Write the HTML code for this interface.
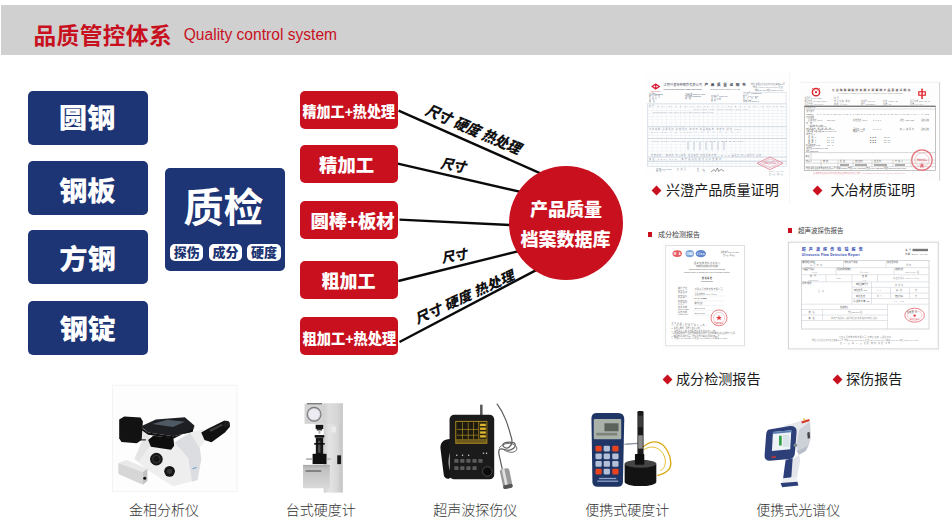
<!DOCTYPE html>
<html lang="zh-CN">
<head>
<meta charset="utf-8">
<title>品质管控体系 Quality control system</title>
<style>
html,body{margin:0;padding:0;background:#fff;}
body{width:952px;height:524px;position:relative;overflow:hidden;font-family:"Liberation Sans","Noto Sans CJK SC",sans-serif;}
.abs{position:absolute;}
#hdr{left:1px;top:5px;width:951px;height:50px;background:#d0d0d0;}
#hdr .t1{position:absolute;left:32.5px;top:15.5px;font-size:22.7px;line-height:30px;font-weight:700;letter-spacing:0.4px;color:#c8101e;white-space:nowrap;}
#hdr .t2{position:absolute;left:182.7px;top:19px;font-size:15.6px;line-height:22px;color:#c8101e;white-space:nowrap;}
.bb{position:absolute;left:28px;width:120px;height:54px;background:#1d3475;border-radius:5px;color:#fff;text-align:center;font-weight:900;font-size:27px;line-height:54px;}
.bb span{transform:translate(-1px,1.3px) scaleX(1.05);}
.bb span,.rb span,.qc span,.circ span{display:inline-block;white-space:nowrap;}
#qc{left:165px;top:168px;width:120px;height:103px;background:#1d3475;border-radius:5px;color:#fff;}
#qc .big{position:absolute;left:-1.5px;top:15px;width:120px;text-align:center;font-size:40px;line-height:50px;font-weight:700;}
.pill{position:absolute;top:75.7px;width:33.4px;height:17.3px;background:#fff;border-radius:5px;color:#1d3475;font-size:13px;line-height:17.6px;font-weight:900;text-align:center;}
.rb{position:absolute;left:300px;width:98px;height:38px;background:#c8101e;border-radius:5px;color:#fff;text-align:center;font-weight:900;line-height:38px;}
.rb.s{font-size:15.3px;}
.rb.s span{transform:translate(-1.6px,2.3px) scaleX(0.918);}
.rb.l{font-size:18px;}
.rb.l span{transform:translate(0,2px);}
#circ{left:509px;top:166px;width:114px;height:114px;border-radius:57px;background:#c8101e;color:#fff;font-weight:900;font-size:18px;text-align:center;}
.lt{position:absolute;font-weight:900;font-style:italic;font-size:14px;line-height:16px;color:#111;white-space:nowrap;transform-origin:0 100%;}
.cap{position:absolute;font-size:14.1px;line-height:18px;color:#1a1a1a;white-space:nowrap;font-weight:400;}
.cap i{position:absolute;left:-13px;top:6.4px;width:7px;height:7px;background:#c8101e;transform:rotate(45deg);}
.ilab{position:absolute;font-size:14px;line-height:18px;color:#333;white-space:nowrap;font-weight:300;}
.sm{position:absolute;font-size:7px;line-height:9px;color:#444;white-space:nowrap;}
.sm b{position:absolute;left:-10.3px;top:2.2px;width:4.4px;height:4.4px;background:#c8101e;}
</style>
</head>
<body>
<div id="hdr" class="abs"><div class="t1">品质管控体系</div><div class="t2">Quality control system</div></div>

<div class="bb" style="top:91px"><span>圆钢</span></div>
<div class="bb" style="top:161px"><span style="transform:translate(-0.7px,3.8px) scaleX(1.05)">钢板</span></div>
<div class="bb" style="top:230px"><span style="transform:translate(-0.5px,2.8px) scaleX(1.05)">方钢</span></div>
<div class="bb" style="top:301px"><span style="transform:translate(-0.2px,2px) scaleX(1.05)">钢锭</span></div>

<div id="qc" class="abs"><div class="big"><span>质检</span></div>
<div class="pill" style="left:5px">探伤</div><div class="pill" style="left:43.9px">成分</div><div class="pill" style="left:82.2px">硬度</div></div>

<svg class="abs" style="left:0;top:0" width="952" height="524" viewBox="0 0 952 524">
<g stroke="#0a0a0a" stroke-width="2.4" fill="none">
<line x1="398.6" y1="110.7" x2="545" y2="175.3"/>
<line x1="397.8" y1="163.7" x2="525" y2="192.9"/>
<line x1="399.5" y1="219.6" x2="515" y2="225.3"/>
<line x1="398.3" y1="281" x2="525" y2="249.6"/>
<line x1="399.5" y1="342" x2="540" y2="268.1"/>
</g>
<defs>
<pattern id="g1" x="647.6" y="103.8" width="4.62" height="3.12" patternUnits="userSpaceOnUse"><path d="M0 .2H4.62M.2 0V3.12" stroke="#dde4ec" stroke-width=".45" fill="none"/></pattern>
</defs>
<!-- doc 1 : Xingcheng quality certificate -->
<g font-family="'Liberation Sans','Noto Sans CJK SC',sans-serif">
<rect x="645" y="74" width="145" height="104" fill="#fefefe"/>
<line x1="789.5" y1="72" x2="789.5" y2="204" stroke="#f6f6f6" stroke-width="1"/>
<polygon points="651,86.5 655.7,83.2 660.4,86.5 655.7,89.8" fill="#d9213a"/>
<polygon points="653.3,86.5 654.6,85.5 655.4,86.5 654.6,87.5" fill="#fff"/><polygon points="656,86.5 656.8,85.5 658.1,86.5 656.8,87.5" fill="#fff"/>
<text x="650.5" y="91.8" font-size="1.6" fill="#c66">XINGCHENG</text>
<text x="663.5" y="85.9" font-size="3" fill="#4a5060" textLength="38.5">江阴兴澄特种钢铁有限公司</text>
<text x="663.5" y="90.2" font-size="2.1" fill="#6a7080" textLength="38.5">JIANGYIN XINGCHENG SPECIAL STEEL WORKS CO.,LTD.</text>
<text x="704.6" y="86.2" font-size="3.6" font-weight="700" fill="#3a4050" textLength="41">产品质量证明书</text>
<text x="710" y="90.4" font-size="2.1" fill="#6a7080" textLength="30">INSPECTION CERTIFICATE</text>
<g font-size="1.9" fill="#6a7284"><text x="751" y="85.2" textLength="34">地址:中国江苏省江阴市滨江东路297号</text><text x="753" y="88.2" textLength="30">电话:0510-86191108 传真</text><text x="755" y="91" textLength="28">邮编:214429 网址 www.jyxc.com</text>
<text x="649" y="94.5" textLength="14">订货单位 CUSTOMER</text><text x="649" y="97" textLength="11">收货单位</text><text x="649" y="99.6" textLength="8">合同号</text><text x="649" y="102" textLength="6">品名</text>
<text x="685" y="94.5" textLength="20">产品标准 SPECIFICATION</text><text x="685" y="97" textLength="16">交货状态 CONDITION</text><text x="685" y="99.4" textLength="6">规格</text>
<text x="711" y="97" textLength="17">证书编号 CERT NO.</text><text x="711" y="99.6" textLength="10">发货日期</text><text x="711" y="102" textLength="5">车号</text>
<text x="743" y="93.5" textLength="19">许可证号 LICENSE NO.</text><text x="743" y="96.6" textLength="16">炉号 HEAT NO.</text><text x="743" y="99.4" textLength="14">生产日期</text><text x="743" y="102" textLength="16">件数 重量 WEIGHT</text></g>
<rect x="647.6" y="103.8" width="138.6" height="62.4" fill="url(#g1)"/>
<rect x="647.6" y="103.8" width="138.6" height="62.4" fill="none" stroke="#ccd5e0" stroke-width=".6"/>
<line x1="747.5" y1="92.5" x2="786.2" y2="92.5" stroke="#c9d2dd" stroke-width=".5"/><line x1="786.2" y1="92.5" x2="786.2" y2="104" stroke="#c9d2dd" stroke-width=".5"/>
<g stroke="#c3cddb" stroke-width=".7"><line x1="647.6" y1="126.7" x2="786.2" y2="126.7"/><line x1="647.6" y1="138.5" x2="786.2" y2="138.5"/><line x1="647.6" y1="157" x2="786.2" y2="157"/><line x1="647.6" y1="161.4" x2="786.2" y2="161.4"/></g>
<g font-size="2" fill="#8a93a6"><text x="649" y="106.6" textLength="135">炉号 C Si Mn P S Cr Ni Mo Cu Al Ti V Nb B N H O Sn As Pb Sb Ca</text><text x="653" y="112.6" textLength="60">Z13089075 AISI 4140 0.41 0.25 0.88 0.012 0.003</text><text x="693" y="109.6" textLength="55">×100 ×100 ×100 ×1000 ×1000 ×100 ×100</text>
<text x="649" y="129.6" textLength="92">力学性能 屈服强度 抗拉强度 伸长率 断面收缩率 冲击功 硬度 HBW</text><text x="651" y="133" textLength="88">Rel Rm A Z AKU2 △ △ △ △ △ △ △ △</text><text x="653" y="141.5" textLength="90">865 1020 15.5 58 78 82 80 ■ ■ ■ ■ ■ ■ ■ ■ 285</text>
<text x="651" y="156" textLength="110">低倍组织 一般疏松 中心疏松 锭型偏析 非金属夹杂物 A B C D 晶粒度 超声波探伤 合格</text><text x="649" y="160.3" textLength="72">备注 REMARKS: 本产品经检验符合标准要求</text></g>
<g fill="#dde2ea"><rect x="687" y="141" width="2" height="9"/><rect x="693" y="141" width="2" height="9"/><rect x="699" y="141" width="2" height="9"/><rect x="705" y="141" width="2" height="9"/><rect x="711" y="141" width="2" height="9"/><rect x="717" y="141" width="2" height="9"/><rect x="723" y="141" width="2" height="9"/></g>
<polygon points="757,163.3 770,157 783,163.3 770,169.6" fill="none" stroke="#e58a9c" stroke-width=".9"/>
<polygon points="760.5,163.3 770,158.8 779.5,163.3 770,167.8" fill="none" stroke="#eea7b4" stroke-width=".6"/>
<text x="763.5" y="164.3" font-size="2.4" fill="#e58a9c" textLength="13">质量检验专用章</text>
<path d="M711,172 l3,-2.5 l1.5,2 l2,-3.5 l1.2,3.4 l2.5,-2 l3,1.8" fill="none" stroke="#555" stroke-width=".6"/>
<g font-size="1.9" fill="#8a93a6"><text x="656" y="169.6" textLength="16">质保部 QUALITY DEPT</text><text x="656" y="172" textLength="9">审核人</text><text x="677" y="169.6" textLength="9">检验员</text><text x="697" y="169.6" textLength="7">制表</text><text x="697" y="172" textLength="8">日期</text><text x="769" y="171.8" textLength="14">2014-06-15</text><text x="769" y="174.6" textLength="14">第1页 共1页</text></g>
</g>
<!-- doc 2 : Daye material certificate -->
<g font-family="'Liberation Sans','Noto Sans CJK SC',sans-serif">
<rect x="799.5" y="82" width="140" height="99" fill="#fdfdfd"/>
<line x1="939.6" y1="82" x2="939.6" y2="181" stroke="#d2d2d2" stroke-width="1"/>
<line x1="799.5" y1="82.3" x2="939.6" y2="82.3" stroke="#f0f0f0" stroke-width="1"/>
<circle cx="816" cy="92.2" r="3.6" fill="none" stroke="#e0262e" stroke-width="1.5"/><circle cx="816" cy="92.2" r="1.1" fill="#e0262e"/>
<path d="M812.3,88.5 l2,1.6 M819.7,88.5 l-2,1.6" stroke="#e0262e" stroke-width="1" fill="none"/>
<g fill="#e0262e"><rect x="921.3" y="88.6" width="1.5" height="10.4"/><rect x="918.2" y="91.2" width="7.7" height="4.6"/></g><rect x="919.4" y="92.3" width="1.9" height="2.4" fill="#fdfdfd"/><rect x="922.8" y="92.3" width="1.9" height="2.4" fill="#fdfdfd"/>
<text x="831.7" y="91.3" font-size="2.8" font-weight="700" fill="#5a4a4a" textLength="78.5">大冶特殊钢股份有限公司钢材产品质量证明书</text>
<text x="838" y="94" font-size="1.8" fill="#998" textLength="65">DAYE SPECIAL STEEL CO.,LTD. QUALITY CERTIFICATE OF STEEL PRODUCTS</text>
<g font-size="1.9" fill="#777"><text x="804.5" y="99" textLength="17">合同号 DY14-0325</text><text x="834" y="99" textLength="5">牌号</text>
<text x="804.5" y="101.9" textLength="22">收货单位 4140-Q/T 00000</text><text x="834" y="101.9" textLength="16">交货状态 调质</text><text x="861" y="101.9" textLength="14">证书号 0074-50</text><text x="883" y="101.9" textLength="15">标准 ASTM A29</text><text x="910" y="101.9" textLength="20">发货日期 2014-05-11</text>
<text x="804.5" y="104.8" textLength="20">订货单位 4140-Q/T A</text><text x="834" y="104.8" textLength="13">规格 Φ180</text><text x="861" y="104.8" textLength="14">炉号 14203391</text><text x="883" y="104.8" textLength="8">支数 12</text><text x="910" y="104.8" textLength="14">重量 24.86 t</text></g>
<rect x="804.4" y="106" width="131.1" height="64.4" fill="#fefefe" stroke="#9a9a9a" stroke-width=".6"/>
<line x1="804.4" y1="106.3" x2="935.5" y2="106.3" stroke="#555" stroke-width=".9"/>
<g stroke="#b5b5b5" stroke-width=".5"><line x1="804.4" y1="109" x2="935.5" y2="109"/><line x1="804.4" y1="152.6" x2="935.5" y2="152.6"/><line x1="804.4" y1="160" x2="935.5" y2="160"/><line x1="804.4" y1="163.2" x2="935.5" y2="163.2"/><line x1="804.4" y1="166.7" x2="935.5" y2="166.7"/><line x1="811" y1="152.6" x2="811" y2="160"/>
<line x1="821" y1="160" x2="821" y2="166.7"/><line x1="838" y1="160" x2="838" y2="166.7"/><line x1="853" y1="160" x2="853" y2="166.7"/><line x1="872" y1="160" x2="872" y2="166.7"/><line x1="893" y1="160" x2="893" y2="166.7"/><line x1="911" y1="160" x2="911" y2="166.7"/></g>
<g font-size="2" fill="#666"><text x="805.5" y="108.4" textLength="10">化学成分%</text><text x="806.5" y="111.8" textLength="8">炉号批号</text><text x="806" y="114.6" textLength="7">14203391</text>
<text x="817" y="115.2" textLength="112">C 0.41   Si 0.25   Mn 0.88   P 0.012   S 0.003   Cr 1.05   Ni 0.05   Mo 0.19   Cu 0.04   Al 0.025</text>
<text x="806" y="117.8" textLength="8">力学性能</text><text x="808" y="121" textLength="14">屈服强度 MPa</text><text x="827" y="121" textLength="8">865 870</text><text x="853" y="121" textLength="14">抗拉强度 MPa</text><text x="873" y="121" textLength="8">1020</text><text x="900" y="121" textLength="14">硬度 HBW 285</text><text x="921" y="121" textLength="8">合格 合格</text>
<text x="806" y="124" textLength="6">低倍</text><text x="808" y="126.6" textLength="18">一般疏松 中心疏松 1.0</text>
<text x="806" y="129.5" textLength="28">非金属夹杂 A细 B细 C细 D细 0.5</text><text x="853" y="129.8" textLength="12">晶粒度 7.5级</text><text x="873" y="129.8" textLength="8">8.0 8.0</text><text x="900" y="129.8" textLength="14">超声波探伤</text><text x="921" y="129.8" textLength="8">合格 合格</text>
<text x="806" y="132.4" textLength="30">A粗 B粗 C粗 D粗 DS 0.5 0.5 0 0.5</text><text x="853" y="132.4" textLength="10">脱碳层 0.35</text>
<text x="806" y="135.4" textLength="9">冲击功 J</text><text x="808" y="138" textLength="8">试样1</text><text x="827" y="138" textLength="7">78 82</text><text x="870" y="138" textLength="6">■■■</text><text x="884" y="138" textLength="6">82 80</text>
<text x="808" y="140.6" textLength="8">试样2</text><text x="827" y="140.6" textLength="7">80 79</text><text x="870" y="140.6" textLength="6">■■■</text><text x="884" y="140.6" textLength="6">81 80</text>
<text x="808" y="143.2" textLength="8">试样3</text><text x="827" y="143.2" textLength="7">82 80</text><text x="870" y="143.2" textLength="6">■■■</text><text x="884" y="143.2" textLength="6">80 79</text>
<text x="806" y="146" textLength="14">断面收缩率 % 58</text><text x="827" y="146.4" textLength="6">15.5</text>
<text x="806" y="149" textLength="22">淬透性 J9 J15 52 48 HRC</text><text x="806" y="151.6" textLength="12">探伤 GB/T4162</text>
<text x="805.5" y="156.6" textLength="4">备注</text>
<text x="806" y="162.4" textLength="6">制表人</text><text x="823" y="162.4" textLength="5">审核</text><text x="840" y="162.4" textLength="5">检验</text><text x="855" y="162.4" textLength="8">质保部长</text><text x="874" y="162.4" textLength="7">签发日</text><text x="895" y="162.4" textLength="8">专用章</text>
<text x="806" y="169.4" textLength="100">地址:湖北省黄石市黄石大道316号 邮编:435001 电话:0714-6297888 传真:0714-6224888 网址:www.dayesteel.com</text></g>
<g fill="#888"><rect x="840" y="164.3" width="9" height="1.4"/><rect x="855" y="164.3" width="12" height="1.4"/><rect x="874" y="164.3" width="13" height="1.4"/><rect x="895" y="164.3" width="10" height="1.4"/></g>
<circle cx="921.9" cy="160" r="10.2" fill="none" stroke="#e5707a" stroke-width="1.2"/><circle cx="921.9" cy="160" r="7" fill="none" stroke="#eea0a8" stroke-width=".6"/>
<text x="916.4" y="161.2" font-size="2.6" fill="#e5707a" textLength="11">质量证明章</text>
<polygon points="921.9,162.3 922.7,164.5 925,164.5 923.1,165.8 923.8,168 921.9,166.7 920,168 920.7,165.8 918.8,164.5 921.1,164.5" fill="#e5707a"/>
<text x="813" y="174.3" font-size="2" fill="#e9a3aa" textLength="92">注:本质量证明书复印件无效,未加盖质量证明专用章无效。THIS CERTIFICATE IS INVALID WITHOUT STAMP</text>
</g>
<!-- doc 3 : composition test report -->
<g font-family="'Liberation Sans','Noto Sans CJK SC',sans-serif">
<rect x="662" y="242" width="86" height="108" fill="#fdfdfd"/>
<rect x="665.7" y="245.5" width="78.8" height="100.3" fill="#fff" stroke="#d9d9d9" stroke-width=".8"/>
<ellipse cx="677.2" cy="253.6" rx="4.7" ry="3.4" fill="#e85a60"/><text x="673.8" y="254.6" font-size="3" font-weight="700" fill="#fff" textLength="6.8">MA</text>
<ellipse cx="689.8" cy="253.6" rx="4.3" ry="3.6" fill="#7ea6dc"/><text x="686.6" y="254.5" font-size="2.6" font-weight="700" fill="#fff" textLength="6.4">CNAS</text>
<ellipse cx="700.8" cy="253.6" rx="5.2" ry="3.6" fill="#5f86cc"/><text x="697" y="254.6" font-size="2.8" font-weight="700" fill="#fff" textLength="7.6">ilac</text>
<g font-size="2" fill="#777"><text x="720.8" y="253" textLength="18">报告编号 2014-CY-0388</text><text x="723" y="255.8" textLength="12">第1页 共2页</text></g>
<g font-size="2.1" fill="#666" text-anchor="middle"><text x="707" y="264.4" textLength="26">国家钢铁材料测试中心</text><text x="707" y="267.3" textLength="22">钢铁研究总院分析测试所</text>
<text x="707" y="270.2" textLength="36">National Testing Center for Iron &amp; Steel Materials</text><text x="707" y="273" textLength="46">Testing Center of Central Iron &amp; Steel Research Institute</text>
<text x="707" y="278.9" font-weight="700" fill="#444" textLength="10">检验报告</text><text x="707" y="281.6" textLength="12">TEST REPORT</text></g>
<g font-size="2" fill="#777"><text x="678" y="288.6" textLength="9">委托单位</text><text x="678" y="290.9" textLength="6">Client</text><text x="694.5" y="289.8" textLength="28">江阴兴澄特种钢铁有限公司</text>
<text x="678" y="293.4" textLength="9">样品名称</text><text x="678" y="295.7" textLength="8">Sample</text><text x="694.5" y="294.6" textLength="22">合金结构钢 4140 Φ180</text>
<text x="678" y="298.2" textLength="9">样品编号</text><text x="678" y="300.5" textLength="9">Sample No.</text><text x="694.5" y="299.4" fill="#444" font-weight="700" textLength="12">CY14-0388</text>
<text x="678" y="303" textLength="9">检验类别</text><text x="678" y="305.3" textLength="6">Type</text><text x="694.5" y="304.2" textLength="8">委托检验</text>
<text x="678" y="307.8" textLength="9">收样日期</text><text x="678" y="310.1" textLength="11">Received date</text><text x="694.5" y="309" fill="#555" textLength="10">2014-06-12</text>
<text x="678" y="312.6" textLength="9">报告日期</text><text x="678" y="314.9" textLength="10">Report date</text><text x="694.5" y="313.8" fill="#555" textLength="10">2014-06-18</text></g>
<g stroke="#ddd" stroke-width=".35"><line x1="693.5" y1="291.2" x2="724" y2="291.2"/><line x1="693.5" y1="296" x2="724" y2="296"/><line x1="693.5" y1="300.8" x2="724" y2="300.8"/><line x1="693.5" y1="305.6" x2="724" y2="305.6"/><line x1="693.5" y1="310.4" x2="724" y2="310.4"/><line x1="693.5" y1="315.2" x2="724" y2="315.2"/></g>
<circle cx="719" cy="317.9" r="8" fill="none" stroke="#e8747b" stroke-width=".9"/><circle cx="719" cy="317.9" r="5.6" fill="none" stroke="#f0a0a5" stroke-width=".5"/>
<polygon points="719,314.9 719.8,317 722,317 720.2,318.3 720.9,320.4 719,319.1 717.1,320.4 717.8,318.3 716,317 718.2,317" fill="#e2373f"/>
<text x="714.2" y="323.6" font-size="2" fill="#e2545c" textLength="9.6">检验专用章</text>
<g font-size="1.9" fill="#777"><text x="671.4" y="323.8" textLength="24">注意事项 Notes:</text><text x="671.4" y="326.4" textLength="36">1. 报告无检验专用章无效。</text><text x="671.4" y="329" textLength="30">2. 报告无审核、批准人签字无效。</text><text x="671.4" y="331.6" textLength="46">3. 报告涂改无效,复制报告未重新加盖印章无效。</text><text x="671.4" y="334.2" textLength="65">4. 对检验报告若有异议,应于收到报告之日起十五日内向本中心提出,逾期不予受理。</text><text x="671.4" y="336.8" textLength="48">5. 本报告仅对来样负责。地址:北京市海淀区学院南路76号</text><text x="671.4" y="339.4" textLength="56">6. 电话:010-62182648 传真:010-62181145 邮编:100081</text></g>
</g>
<!-- doc 4 : ultrasonic flaw detection report -->
<g font-family="'Liberation Sans','Noto Sans CJK SC',sans-serif">
<rect x="786" y="239.5" width="155" height="112" fill="#fdfdfd"/>
<rect x="788.4" y="242.2" width="149.8" height="106.7" fill="#fff" stroke="#cfcfcf" stroke-width=".9"/>
<text x="801.7" y="250.6" font-size="4" font-weight="700" fill="#2b48b0" textLength="61">超声波探伤检验报告</text>
<text x="801.7" y="255.6" font-size="3.3" font-weight="700" fill="#2b48b0" textLength="58">Ultrasonic  Flaw  Detection  Report</text>
<g font-size="2.2" fill="#444"><text x="905.3" y="251" textLength="6">编号</text><text x="905.3" y="255.4" textLength="22">日期 2014-06-15</text></g><rect x="912.5" y="248.8" width="15.5" height="2.4" fill="#777"/>
<rect x="801.3" y="260.3" width="127.7" height="68.7" fill="none" stroke="#b8bcc4" stroke-width=".6"/>
<g stroke="#c4c8d0" stroke-width=".5" fill="none">
<line x1="801.3" y1="267.6" x2="929" y2="267.6"/><line x1="801.3" y1="274.7" x2="929" y2="274.7"/><line x1="801.3" y1="281.8" x2="929" y2="281.8"/>
<line x1="852" y1="287.3" x2="929" y2="287.3"/><line x1="852" y1="293.1" x2="929" y2="293.1"/><line x1="852" y1="298.6" x2="929" y2="298.6"/><line x1="801.3" y1="304.2" x2="929" y2="304.2"/>
<line x1="801.3" y1="309.5" x2="887.5" y2="309.5"/><line x1="801.3" y1="315" x2="887.5" y2="315"/><line x1="801.3" y1="320.5" x2="887.5" y2="320.5"/>
<line x1="843.5" y1="260.3" x2="843.5" y2="267.6"/><line x1="886" y1="260.3" x2="886" y2="267.6"/><line x1="836" y1="267.6" x2="836" y2="274.7"/><line x1="894" y1="267.6" x2="894" y2="274.7"/>
<line x1="826" y1="274.7" x2="826" y2="281.8"/><line x1="852" y1="274.7" x2="852" y2="304.2"/><line x1="877.5" y1="274.7" x2="877.5" y2="281.8"/><line x1="871.5" y1="281.8" x2="871.5" y2="304.2"/><line x1="890.5" y1="287.3" x2="890.5" y2="298.6"/><line x1="909.5" y1="287.3" x2="909.5" y2="298.6"/>
<line x1="887.5" y1="304.2" x2="887.5" y2="329"/><line x1="822.5" y1="309.5" x2="822.5" y2="320.5"/></g>
<g font-size="2.1" fill="#555"><text x="802.3" y="262.8" textLength="13">委托单位 工件名</text><text x="810" y="266.2" fill="#999" textLength="12">兴澄特钢</text><text x="844.5" y="262.8" textLength="13">材料牌号 规格</text><text x="887" y="262.8" textLength="11">热处理状态</text><text x="906" y="266.2" fill="#999" textLength="5">调质</text>
<text x="802.3" y="270" textLength="12">仪器型号 探头</text><text x="812" y="273.4" fill="#999" textLength="5">CTS</text><text x="837" y="270" textLength="14">耦合剂 探伤灵敏度</text><text x="860" y="273.4" fill="#999" textLength="9">Φ2 FBH</text><text x="895" y="270" textLength="8">验收标准</text><text x="905" y="273.4" fill="#999" textLength="14">GB/T4162 A级</text>
<text x="810" y="277.2" textLength="6">炉 号</text><text x="808" y="280.6" fill="#999" textLength="10">14203391</text><text x="836" y="279" fill="#999" textLength="5">Φ180</text><text x="862" y="277.2" textLength="5">支 数</text><text x="863" y="280.6" fill="#999" textLength="3">12</text><text x="893" y="279" fill="#999" textLength="26">纵波直探头 2.5MHz Φ20</text>
<text x="802.3" y="284.2" textLength="9">探伤结果</text><text x="856" y="285.4" textLength="12">缺陷当量尺寸</text><text x="895" y="285.8" fill="#999" textLength="8">未发现</text>
<text x="818" y="291.5" fill="#aaa" textLength="6">合 格</text>
<text x="854" y="291" textLength="13">缺陷位置 mm</text><text x="877" y="291" fill="#999" textLength="4">0.0</text><text x="896" y="291" textLength="6">深度</text><text x="915" y="291" fill="#999" textLength="3">无</text>
<text x="856" y="296.6" textLength="9">缺陷性质</text><text x="877" y="296.6" fill="#999" textLength="5">单个</text><text x="895" y="296.6" textLength="8">密集 长条</text><text x="915" y="296.6" fill="#999" textLength="3">无</text>
<text x="853.5" y="302.2" textLength="16">底波降低量 dB</text><text x="894" y="302.2" fill="#999" textLength="10">≤6   dB</text>
<text x="840" y="307.6" textLength="8">检验结论</text>
<text x="808.5" y="313" textLength="6">结 论</text><text x="848" y="313.2" fill="#999" textLength="14">符合 GB/T4162 A 级</text>
<text x="808.5" y="318.6" textLength="6">备 注</text><text x="831" y="318.6" fill="#999" textLength="48">本批产品经超声波探伤检验,未发现超标缺陷,合格。</text></g>
<ellipse cx="914.6" cy="315.2" rx="9.8" ry="7" fill="none" stroke="#e8747b" stroke-width=".9"/><ellipse cx="914.6" cy="315.2" rx="7.3" ry="4.9" fill="none" stroke="#ee9aa1" stroke-width=".5"/>
<circle cx="914.6" cy="315.6" r="1.2" fill="#e2373f"/><text x="907" y="313" font-size="2.1" fill="#333" textLength="10">检验员 印</text><text x="909.8" y="319.6" font-size="1.9" fill="#e0555f" textLength="9.6">探伤专用章</text>
<g font-size="1.9" fill="#888" text-anchor="middle"><text x="865" y="338" textLength="52">江阴兴澄特种钢铁有限公司  质量保证部  无损检测室</text><text x="865" y="340.8" textLength="106">地址:江苏省江阴市滨江东路297号  电话:0510-86191108  传真:0510-86191108  邮编:214429  网址:www.jyxc.com</text><text x="865" y="343.6" textLength="50">第 1 页  共 1 页  检验  审核  批准  日期</text></g>
</g>
<!-- microscope -->
<rect x="112.5" y="385.2" width="124.5" height="106.3" fill="#fdfdfd" stroke="#f3f3f3" stroke-width="1"/>
<g transform="translate(110,395) scale(0.1909)">
<polygon points="170,178 205,195 215,265 150,352 128,335 168,240" fill="#e4e4e4"/>
<polygon points="205,225 340,245 420,195 492,178 505,235 470,275 478,335 458,445 330,478 205,398 150,352 210,265" fill="#eeeeee"/>
<polygon points="340,250 420,198 470,278 478,335 458,445 430,455 410,330" fill="#dcdde0"/>
<polygon points="48,128 75,112 160,118 172,138 166,236 140,253 60,246 48,226" fill="#121212"/>
<polygon points="160,165 240,128 392,117 442,160 432,192 332,216 200,196" fill="#1e1f22"/>
<polygon points="222,152 300,130 392,140 330,168" fill="#4f5963"/>
<polygon points="165,172 200,196 332,216 432,192 442,160 440,176 334,228 200,208 163,182" fill="#0f0f10"/>
<polygon points="200,236 226,214 332,224 336,266 320,287 214,271" fill="#0e0e0e"/>
<circle cx="243" cy="336" r="33" fill="#161616"/><circle cx="243" cy="336" r="20" fill="none" stroke="#555" stroke-width="3"/>
<circle cx="312" cy="400" r="28" fill="#151515"/><circle cx="312" cy="400" r="14" fill="#333"/>
<polygon points="478,196 510,178 600,133 624,143 629,165 602,196 532,247 495,236" fill="#111"/>
<polygon points="520,182 585,150 592,160 528,194" fill="#3a3a3a"/>
<circle cx="610" cy="152" r="17" fill="#1c1c1c"/>
<polygon points="44,356 86,340 196,386 172,404" fill="#e9e9e9"/>
<polygon points="44,356 172,404 172,470 44,414" fill="#d6d6d6"/>
<polygon points="172,404 196,386 196,450 172,470" fill="#c2c2c2"/>
<circle cx="182" cy="436" r="8" fill="#111"/>
<rect x="432" y="380" width="22" height="6" fill="#6aa0d8" transform="rotate(-18 443 383)"/>
<rect x="160" y="232" width="28" height="6" fill="#222"/>
</g>
<!-- bench hardness tester -->
<defs>
<linearGradient id="hcol" x1="0" x2="1" y1="0" y2="0"><stop offset="0" stop-color="#d0d0d0"/><stop offset=".3" stop-color="#e4e4e4"/><stop offset=".7" stop-color="#d8d8d8"/><stop offset="1" stop-color="#c2c2c2"/></linearGradient>
<linearGradient id="hbase" x1="0" x2="0" y1="0" y2="1"><stop offset="0" stop-color="#a8a8a8"/><stop offset=".15" stop-color="#c0c0c0"/><stop offset="1" stop-color="#d9d9d9"/></linearGradient>
</defs>
<g transform="translate(295,398) scale(0.1911)">
<rect x="150" y="28" width="100" height="467" fill="url(#hcol)"/>
<rect x="50" y="30" width="200" height="105" fill="#d3d3d3"/>
<rect x="150" y="30" width="100" height="105" fill="url(#hcol)" opacity=".6"/>
<rect x="62" y="27" width="80" height="6" fill="#666"/>
<circle cx="100" cy="85" r="39" fill="#7a7a7a"/><circle cx="100" cy="85" r="33" fill="#c9c9cf"/><circle cx="100" cy="85" r="29" fill="#ececf2"/>
<rect x="108" y="140" width="40" height="22" fill="#151515"/><rect x="114" y="162" width="28" height="8" fill="#333"/>
<rect x="123" y="170" width="10" height="16" fill="#aaa"/>
<rect x="103" y="194" width="50" height="13" fill="#111"/>
<rect x="109" y="207" width="39" height="88" fill="#161616"/><rect x="121" y="224" width="12" height="62" fill="#505050"/>
<rect x="100" y="236" width="56" height="8" fill="#0c0c0c"/>
<rect x="92" y="292" width="73" height="54" fill="#0f0f0f"/>
<rect x="58" y="317" width="32" height="5" fill="#777"/><rect x="166" y="317" width="22" height="5" fill="#999"/>
<rect x="42" y="350" width="140" height="122" fill="url(#hbase)"/>
<rect x="55" y="378" width="82" height="8" fill="#6f6f6f"/>
<rect x="221" y="300" width="20" height="46" fill="#1a1a1a"/>
<rect x="190" y="150" width="24" height="30" fill="#ececec"/>
</g>
<!-- ultrasonic flaw detector -->
<g transform="translate(432,398) scale(0.1908)">
<path d="M340,30 C385,90 400,150 418,215 C425,250 395,275 375,255 C360,235 400,225 430,235 C450,250 420,285 380,270 C355,262 345,265 352,300 L368,372" fill="none" stroke="#5e5e5e" stroke-width="6.5"/>
<path d="M352,262 C380,225 440,235 445,262 C446,290 400,292 372,268" fill="none" stroke="#6a6a6a" stroke-width="5"/>
<rect x="252" y="35" width="13" height="58" fill="#555"/>
<path d="M96,215 C60,215 40,235 45,270 L62,405 C66,425 90,428 100,415 L100,385 C85,380 82,300 100,275 Z" fill="#141414"/>
<rect x="92" y="88" width="234" height="338" rx="24" fill="#1b1b1b"/>
<rect x="122" y="120" width="168" height="120" fill="#b08a1e"/>
<rect x="127" y="125" width="116" height="92" fill="#1d1a10"/>
<rect x="247" y="125" width="39" height="92" fill="#2a2412"/>
<rect x="127" y="217" width="159" height="18" fill="#6d5a1c"/>
<g stroke="#c9a227" stroke-width="3"><line x1="160" y1="128" x2="160" y2="216"/><line x1="190" y1="128" x2="190" y2="216"/><line x1="218" y1="128" x2="218" y2="216"/><line x1="130" y1="165" x2="242" y2="165"/><line x1="130" y1="195" x2="242" y2="195"/></g>
<g fill="#e0b730"><rect x="252" y="135" width="30" height="12"/><rect x="252" y="155" width="30" height="12"/><rect x="252" y="175" width="30" height="12"/><rect x="252" y="195" width="30" height="12"/></g>
<g fill="#5c5c5c"><rect x="117" y="320" width="22" height="20" rx="3"/><rect x="148" y="320" width="22" height="20" rx="3"/><rect x="180" y="320" width="22" height="20" rx="3"/><rect x="212" y="320" width="22" height="20" rx="3"/><rect x="243" y="320" width="22" height="20" rx="3"/>
<rect x="117" y="358" width="22" height="20" rx="3"/><rect x="148" y="358" width="22" height="20" rx="3"/><rect x="180" y="358" width="22" height="20" rx="3"/><rect x="212" y="358" width="22" height="20" rx="3"/></g>
<g fill="#cfcfcf"><circle cx="130" cy="300" r="4"/><circle cx="160" cy="300" r="4"/><circle cx="192" cy="300" r="4"/><circle cx="270" cy="290" r="4"/><circle cx="286" cy="290" r="4"/></g>
<circle cx="290" cy="385" r="25" fill="#0c0c0c" stroke="#5a5a5a" stroke-width="4"/>
<g transform="rotate(-12 388 422)"><rect x="364" y="370" width="50" height="105" rx="12" fill="#9a9a9a"/><rect x="376" y="372" width="14" height="100" fill="#e2e2e2"/><rect x="364" y="455" width="50" height="20" rx="8" fill="#555"/></g>
</g>
<!-- portable hardness tester -->
<g transform="translate(580,400) scale(0.1908)">
<path d="M330,246 C355,225 385,215 410,222 C450,235 476,290 476,332 C476,365 455,385 404,396" fill="none" stroke="#d9a915" stroke-width="7"/>
<path d="M332,262 C370,235 410,245 435,280 C455,315 452,355 420,372" fill="none" stroke="#e2bb2a" stroke-width="5"/>
<path d="M240,232 L300,226" fill="none" stroke="#6a8fd0" stroke-width="4"/>
<path d="M60,95 Q60,68 90,68 L200,68 Q232,68 232,100 L225,430 Q224,455 198,455 L92,455 Q66,455 65,430 Z" fill="#1e3566"/>
<rect x="72" y="100" width="144" height="106" rx="5" fill="#aab1a8"/>
<rect x="128" y="122" width="74" height="42" fill="#5c625c"/>
<rect x="85" y="172" width="110" height="14" fill="#7c837b"/>
<g fill="#e8431f"><rect x="81" y="240" width="33" height="30" rx="6"/><rect x="169" y="240" width="33" height="30" rx="6"/><rect x="81" y="360" width="33" height="30" rx="6"/><rect x="169" y="360" width="33" height="30" rx="6"/></g>
<g fill="#b4c0d8"><rect x="124" y="240" width="33" height="30" rx="6"/><rect x="81" y="280" width="33" height="30" rx="6"/><rect x="124" y="280" width="33" height="30" rx="6"/><rect x="169" y="280" width="33" height="30" rx="6"/><rect x="81" y="320" width="33" height="30" rx="6"/><rect x="124" y="320" width="33" height="30" rx="6"/><rect x="169" y="320" width="33" height="30" rx="6"/><rect x="124" y="360" width="33" height="30" rx="6"/></g>
<rect x="100" y="408" width="90" height="7" fill="#8fa2c8"/><rect x="90" y="422" width="110" height="7" fill="#8fa2c8"/>
<line x1="232" y1="232" x2="312" y2="228" stroke="#888" stroke-width="5"/>
<path d="M234,334 L234,430 A83,21 0 0 0 400,430 L400,334 Z" fill="#131313"/>
<ellipse cx="317" cy="334" rx="83" ry="21" fill="#444"/>
<rect x="301" y="57" width="32" height="235" rx="7" fill="#1a1a1a"/>
<rect x="305" y="82" width="24" height="60" fill="#3d3d3d"/>
<rect x="305" y="185" width="24" height="70" fill="#8a8a8a"/>
<rect x="288" y="283" width="49" height="56" rx="4" fill="#0e0e0e"/>
</g>
<!-- handheld spectrometer -->
<g transform="translate(760,415) scale(0.15267)">
<polygon points="150,72 300,30 328,40 332,150 318,200 250,242 232,232 240,100" fill="#e6e8ec"/>
<polygon points="258,95 328,45 332,150 318,200 250,242 240,185" fill="#cdd1d8"/>
<polygon points="240,235 318,200 300,235 255,262" fill="#b9bfca"/>
<polygon points="270,42 322,27 326,40 275,56" fill="#d63a2a"/>
<circle cx="290" cy="29" r="7" fill="#e8c93a"/>
<polygon points="309,116 325,110 328,150 313,156" fill="#444"/>
<polygon points="170,292 228,280 256,256 263,300 240,420 150,430 165,350" fill="#e3e5ea"/>
<polygon points="168,294 214,284 205,410 150,426 160,350" fill="#2c3f78"/>
<polygon points="150,415 240,404 245,440 150,446" fill="#eceef2"/>
<polygon points="135,446 245,437 252,462 145,473" fill="#2c3f78"/>
<path d="M60,95 L195,72 Q242,70 240,110 L228,255 Q222,285 195,288 L65,300 Q28,298 30,265 L40,130 Q42,100 60,95 Z" fill="#2c3f78"/>
<polygon points="85,112 205,100 198,225 78,235" fill="#eef3f6"/>
<polygon points="85,112 205,100 204,113 84,125" fill="#5c7fb5"/>
<rect x="125" y="136" width="17" height="64" fill="#2f9e44"/>
<rect x="150" y="130" width="42" height="80" fill="#d9e3ea"/>
<rect x="75" y="271" width="30" height="9" fill="#d63a2a"/>
<circle cx="232" cy="198" r="12" fill="#8a9099"/><circle cx="232" cy="198" r="6" fill="#6f8f80"/>
</g>

</svg>

<div class="rb s" style="top:91px"><span>精加工+热处理</span></div>
<div class="rb l" style="top:145px"><span style="transform:translate(-2.4px,1.8px) scaleX(1.02)">精加工</span></div>
<div class="rb l" style="top:201px"><span style="transform:translate(3.3px,1.6px) scaleX(1.02)">圆棒+板材</span></div>
<div class="rb l" style="top:261px"><span style="transform:translate(-0.6px,2px)">粗加工</span></div>
<div class="rb s" style="top:317px"><span style="transform:translate(-1px,3px) scaleX(0.93)">粗加工+热处理</span></div>

<div id="circ" class="abs"><div style="position:absolute;left:0;top:32px;width:114px;line-height:24px"><span>产品质量</span></div><div style="position:absolute;left:-0.5px;top:62px;width:114px;line-height:24px"><span>档案数据库</span></div></div>

<div class="lt" id="t1" style="left:422.9px;top:100.7px;font-size:15px;transform:rotate(23.3deg) scaleX(0.9)">尺寸 硬度 热处理</div>
<div class="lt" id="t2" style="left:439.4px;top:156px;font-size:13.5px;transform:rotate(9.5deg) scaleX(0.95)">尺寸</div>
<div class="lt" id="t3" style="left:442.9px;top:251px;font-size:13px;transform:rotate(-10.7deg)">尺寸</div>
<div class="lt" id="t4" style="left:418.6px;top:312.2px;font-size:13px;transform:rotate(-25deg) scaleX(1.1)">尺寸 硬度 热处理</div>

<div class="cap" style="left:666px;top:181px"><i style="top:5.6px;left:-12.8px"></i>兴澄产品质量证明</div>
<div class="cap" style="left:830.5px;top:180.6px"><i style="top:6px;left:-16.8px"></i>大冶材质证明</div>
<div class="cap" style="left:676px;top:370px"><i style="left:-12.3px;top:6.2px"></i>成分检测报告</div>
<div class="cap" style="left:846px;top:370px"><i style="left:-12.3px;top:6.2px"></i>探伤报告</div>

<div class="sm" style="left:658px;top:230px"><b></b>成分检测报告</div>
<div class="sm" style="left:798px;top:226px;font-size:6.5px"><b></b>超声波探伤报告</div>

<div class="ilab" style="left:129px;top:501px">金相分析仪</div>
<div class="ilab" style="left:285.8px;top:501px">台式硬度计</div>
<div class="ilab" style="left:433.3px;top:501px">超声波探伤仪</div>
<div class="ilab" style="left:585.3px;top:501px">便携式硬度计</div>
<div class="ilab" style="left:756.2px;top:501px">便携式光谱仪</div>
</body>
</html>
